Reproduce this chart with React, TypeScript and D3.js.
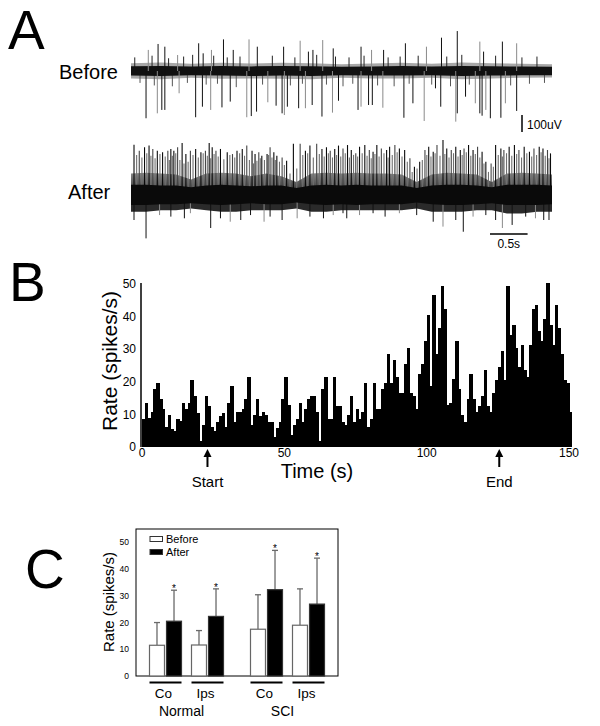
import React from "react";
import * as d3 from "d3";

const FONT = "Arial, 'Liberation Sans', Helvetica, sans-serif";

// ---------- Panel A : traces (time in s, amplitude in µV) ----------
const noiseT = [0, 0.4, 0.8, 1.2, 1.6, 2.0, 2.4, 2.8, 3.2, 3.6, 4.0, 4.4, 4.8, 5.2, 5.6];
const befBandHi = [28, 30, 26, 29, 27, 30, 28, 25, 27, 29, 26, 30, 28, 26, 25];
const befBandLo = [-27, -29, -25, -27, -29, -27, -29, -25, -27, -27, -25, -29, -27, -25, -25];
const befFuzzHi = [46, 50, 42, 48, 44, 48, 46, 40, 44, 48, 42, 50, 46, 42, 40];
const befFuzzLo = [-44, -48, -40, -46, -44, -46, -48, -40, -44, -44, -40, -48, -44, -40, -38];

const beforeDown: [number, number][] = [
  [0.2, -278], [0.35, -249], [0.41, -229], [0.45, -229], [0.64, -131], [0.86, -272], [0.95, -210],
  [1.06, -229], [1.21, -214], [1.32, -180], [1.54, -272], [1.6, -265], [1.67, -239], [1.82, -184],
  [1.93, -204], [2.01, -249], [2.04, -259], [2.08, -210], [2.23, -219], [2.32, -219], [2.41, -200],
  [2.54, -268], [2.68, -245], [2.76, -175], [3.02, -229], [3.06, -210], [3.16, -200], [3.21, -200],
  [3.35, -216], [3.63, -275], [3.75, -190], [3.9, -294], [4.05, -102], [4.12, -210], [4.32, -298],
  [4.34, -249], [4.45, -151], [4.58, -190], [4.64, -249], [4.67, -263], [4.72, -229], [4.78, -278],
  [4.92, -275], [4.98, -190], [5.13, -235],
];
const beforeUp: [number, number][] = [
  [0.23, 124], [0.36, 159], [0.45, 143], [0.62, 94], [0.9, 163], [0.96, 104], [1.07, 124],
  [1.23, 186], [1.36, 124], [1.57, 186], [1.68, 143], [2.03, 143], [2.25, 178], [2.36, 114],
  [2.42, 124], [2.55, 182], [2.69, 133], [3.06, 143], [3.2, 124], [3.36, 124], [3.65, 163],
  [3.93, 143], [4.13, 196], [4.34, 235], [4.64, 173], [4.69, 114], [4.94, 173], [5.13, 163],
];
const beforeSmall: [number, number][] = [
  [0.05, 80], [0.12, -70], [0.28, 90], [0.31, -85], [0.5, 75], [0.55, -90], [0.7, 85], [0.75, -70],
  [0.82, 95], [1.0, -80], [1.1, 90], [1.15, -75], [1.28, 80], [1.4, -95], [1.45, 85], [1.75, -80],
  [1.88, 90], [2.12, -85], [2.18, 80], [2.28, -75], [2.47, 95], [2.6, -80], [2.72, 85], [2.82, -90],
  [2.9, 80], [2.95, -75], [3.1, 90], [3.28, -85], [3.42, 80], [3.5, -90], [3.58, 85], [3.7, -75],
  [3.82, 90], [4.0, -80], [4.2, 85], [4.25, -90], [4.4, 95], [4.5, -80], [4.85, 90], [5.05, -85],
  [5.2, 80], [5.3, -75], [5.4, 85], [5.5, -70],
];

const hazeT = [0, 0.2, 0.4, 0.6, 0.8, 1.0, 1.2, 1.4, 1.6, 1.8, 2.0, 2.2, 2.4, 2.6, 2.8, 3.0, 3.2, 3.4, 3.6, 3.8, 4.0, 4.2, 4.4, 4.6, 4.8, 5.0, 5.2, 5.4, 5.6];
const aftHazeHi = [120, 125, 120, 115, 85, 120, 125, 120, 105, 120, 105, 70, 120, 125, 120, 125, 120, 120, 115, 70, 115, 125, 120, 115, 70, 120, 125, 120, 115];
const aftHazeLo = [-105, -105, -95, -95, -85, -95, -105, -105, -95, -95, -95, -85, -105, -105, -95, -95, -95, -95, -95, -85, -105, -105, -105, -95, -95, -115, -115, -105, -105];
const aftBandHi = [55, 55, 50, 50, 40, 50, 55, 50, 45, 50, 50, 35, 50, 55, 50, 55, 50, 50, 50, 35, 50, 55, 55, 50, 40, 55, 55, 55, 50];
const aftBandLo = [-65, -65, -60, -60, -55, -60, -65, -60, -55, -60, -60, -50, -60, -65, -60, -65, -60, -60, -60, -50, -60, -65, -65, -60, -55, -65, -65, -65, -60];

const afterUp: [number, number][] = [
  [0.04, 290], [0.11, 255], [0.18, 275], [0.24, 285], [0.29, 265], [0.35, 255], [0.42, 245], [0.49, 255],
  [0.53, 265], [0.57, 255], [0.62, 275], [0.68, 300], [0.73, 235], [0.79, 255], [0.86, 265], [0.93, 245],
  [0.99, 255], [1.04, 300], [1.08, 275], [1.13, 255], [1.19, 265], [1.28, 245], [1.35, 235], [1.41, 255],
  [1.48, 265], [1.54, 285], [1.61, 255], [1.65, 235], [1.7, 245], [1.74, 225], [1.81, 235], [1.85, 275],
  [1.9, 245], [1.94, 225], [2.01, 215], [2.07, 195], [2.16, 295], [2.25, 295], [2.32, 255], [2.38, 285],
  [2.47, 295], [2.54, 265], [2.6, 275], [2.65, 255], [2.71, 265], [2.76, 285], [2.82, 268], [2.88, 288],
  [2.93, 259], [2.99, 239], [3.04, 278], [3.11, 288], [3.17, 259], [3.22, 249], [3.27, 288], [3.33, 268],
  [3.4, 259], [3.44, 278], [3.51, 288], [3.57, 268], [3.64, 259], [3.71, 210], [3.77, 161], [3.84, 190],
  [3.91, 259], [3.96, 278], [4.02, 249], [4.07, 288], [4.15, 318], [4.2, 268], [4.26, 259], [4.32, 278],
  [4.38, 259], [4.43, 268], [4.49, 288], [4.55, 259], [4.61, 278], [4.67, 249], [4.72, 190], [4.79, 180],
  [4.85, 288], [4.92, 268], [4.96, 259], [5.03, 278], [5.1, 288], [5.16, 259], [5.23, 278], [5.3, 249],
  [5.36, 268], [5.43, 278], [5.48, 268], [5.54, 259], [5.58, 239],
];
const afterUpGray: [number, number][] = [
  [0.075, 230], [0.145, 215], [0.21, 240], [0.265, 225], [0.32, 210], [0.385, 235], [0.455, 220], [0.51, 200],
  [0.55, 225], [0.595, 240], [0.65, 200], [0.705, 180], [0.76, 190], [0.825, 230], [0.895, 215], [0.96, 240],
  [1.015, 225], [1.06, 210], [1.105, 235], [1.16, 220], [1.235, 205], [1.315, 230], [1.38, 215], [1.445, 240],
  [1.51, 225], [1.575, 200], [1.63, 180], [1.675, 195], [1.72, 210], [1.775, 200], [1.83, 230], [1.875, 215],
  [1.92, 200], [1.975, 190], [2.04, 170], [2.115, 120], [2.205, 150], [2.285, 230], [2.35, 240], [2.425, 215],
  [2.505, 235], [2.57, 220], [2.625, 240], [2.68, 215], [2.735, 230], [2.79, 220], [2.85, 240], [2.905, 215],
  [2.96, 230], [3.015, 220], [3.075, 240], [3.14, 225], [3.195, 210], [3.245, 235], [3.3, 220], [3.365, 240],
  [3.42, 215], [3.475, 230], [3.54, 245], [3.605, 220], [3.675, 190], [3.74, 130], [3.805, 150], [3.875, 200],
  [3.935, 230], [3.99, 220], [4.045, 240], [4.11, 225], [4.175, 235], [4.23, 215], [4.29, 240], [4.35, 220],
  [4.405, 230], [4.46, 245], [4.52, 225], [4.58, 235], [4.64, 215], [4.695, 180], [4.755, 130], [4.82, 160],
  [4.885, 230], [4.94, 220], [4.995, 240], [5.065, 225], [5.13, 235], [5.195, 215], [5.265, 240], [5.33, 220],
  [5.395, 230], [5.455, 245], [5.51, 225], [5.56, 210],
];
const afterDown: [number, number][] = [
  [0.04, -153], [0.2, -261], [0.38, -124], [0.53, -133], [0.71, -143], [0.79, -113], [1.06, -200],
  [1.19, -143], [1.32, -163], [1.46, -153], [1.59, -124], [1.77, -163], [1.85, -133], [2.01, -153],
  [2.21, -143], [2.38, -133], [2.56, -143], [2.69, -124], [2.82, -113], [2.87, -143], [3.04, -124],
  [3.22, -113], [3.38, -133], [3.57, -113], [3.8, -124], [4.02, -163], [4.15, -192], [4.32, -153],
  [4.42, -222], [4.55, -133], [4.72, -124], [4.85, -153], [4.94, -200], [5.07, -182], [5.25, -133],
  [5.38, -143], [5.49, -153], [5.56, -153],
];

// ---------- Panel B : firing-rate histogram (1 s bins) ----------
const histRates = [
  8.7, 13.6, 8.9, 10.7, 17.7, 19.6, 14.6, 11.8, 6.1, 9.7, 5.6, 4.9, 8.7, 7.9, 13.6, 11.8, 13.6, 20.7, 15.6, 10.5,
  1.7, 6.6, 15.6, 12.6, 6.1, 4.8, 7.7, 9.5, 10.5, 6.1, 13.6, 18.6, 7.7, 10.7, 10.7, 11.8, 14.6, 21.5, 6.6, 9.7,
  14.6, 9.5, 10.7, 9.7, 7.7, 7.7, 3.1, 5.8, 7.7, 14.6, 21.5, 12.8,
  3.6, 6.6, 8.7, 13.6, 7.7, 11.8, 14.6, 15.6, 15.6, 10.7, 1.7, 17.7, 21.5, 8.7, 8.7, 21.5, 12.6, 12.6, 7.7, 6.9,
  9.7, 15.6, 7.7, 11.8, 8.7, 10.7, 19.6, 6.1, 8.7, 19.6, 11.6, 11.6, 17.7, 19.6, 28.6, 19.6, 26.6, 21.5, 16.7, 16.7,
  25.6, 30.4, 16.7, 15.6, 11.8, 22.5, 25.6, 32.4, 40.4, 18.6, 46.5,
  28.6, 36.4, 49.3, 42.4, 12.8, 13.6, 20.8, 32.4, 17.7, 9.7, 7.7, 14.8, 22.5, 14.6, 10.7, 12.6, 15.6, 23.7, 12.6, 10.7,
  16.6, 20.7, 24.5, 29.3, 20.7, 49.3, 34.3, 37.5, 30.4, 24.5, 31.4, 23.5, 21.5, 31.4, 42.4, 43.5, 35.5, 32.4, 39.4, 50.3,
  37.5, 31.4, 43.5, 36.5, 28.4, 20.7, 19.7, 10.7,
];
const histXTicks = [0, 50, 100, 150];
const histYTicks = [0, 10, 20, 30, 40, 50];
const markerLabels = ["Start", "End"];
const markerTimes = [23, 125.5];

// ---------- Panel C : mean rate bars ----------
const groups = ["Normal", "SCI"];
const sides = ["Co", "Ips"];
const conditions = ["Before", "After"];
const beforeMean = [11.5, 11.6, 17.5, 19.0];
const afterMean = [20.5, 22.3, 32.3, 26.9];
const beforeErrTop = [20.0, 17.0, 30.4, 32.6];
const afterErrTop = [32.1, 32.6, 47.0, 44.1];
const cYTicks = [0, 10, 20, 30, 40, 50];

export default function App() {
  // ----- Panel A scales -----
  const tScale = d3.scaleLinear().domain([0, 5.6]).range([131, 552]);
  const bef = d3.scaleLinear().domain([-100, 100]).range([71 + 17, 71 - 17]);
  const aft = d3.scaleLinear().domain([-100, 100]).range([194 + 17, 194 - 17]);

  const bandArea = (ts: number[], lo: number[], hi: number[], y: d3.ScaleLinear<number, number>) =>
    d3.area<number>()
      .x((_, i) => tScale(ts[i]))
      .y0((_, i) => y(lo[i]))
      .y1((_, i) => y(hi[i]))
      .curve(d3.curveLinear)(ts) as string;

  // ----- Panel B scales -----
  const xB = d3.scaleLinear().domain([0, 150]).range([142, 569]);
  const yB = d3.scaleLinear().domain([0, 50]).range([447, 284]);

  // ----- Panel C scales -----
  const gX = d3.scalePoint<string>().domain(groups).range([136, 338]).padding(0.5);
  const sX = d3.scalePoint<string>().domain(sides).range([-21, 21]);
  const cX = d3.scaleBand<string>().domain(conditions).range([-16, 16]).paddingInner(0.12);
  const yC = d3.scaleLinear().domain([0, 55]).range([676, 529]);

  const cBars: { g: string; s: string; c: string; v: number; e: number; idx: number }[] = [];
  groups.forEach((g, gi) =>
    sides.forEach((s, si) => {
      const idx = gi * 2 + si;
      cBars.push({ g, s, c: "Before", v: beforeMean[idx], e: beforeErrTop[idx], idx });
      cBars.push({ g, s, c: "After", v: afterMean[idx], e: afterErrTop[idx], idx });
    })
  );

  const spikeColor = (i: number) => (i % 3 === 1 ? "#8a8a8a" : "#111");

  return (
    <svg
      width={600}
      height={726}
      viewBox="0 0 600 726"
      style={{ position: "absolute", left: 0, top: 0, background: "#fff", fontFamily: FONT }}
    >
      <defs>
        <linearGradient id="hazeGrad" gradientUnits="userSpaceOnUse" x1={0} y1={172} x2={0} y2={194}>
          <stop offset="0%" stopColor="#8a8a8a" />
          <stop offset="100%" stopColor="#2a2a2a" />
        </linearGradient>
      </defs>
      <rect x={0} y={0} width={600} height={726} fill="#fff" />

      {/* Panel letters */}
      <text x={8} y={49} fontSize={55} fill="#000">A</text>
      <text x={9} y={301} fontSize={55} fill="#000">B</text>
      <text x={25} y={588} fontSize={55} fill="#000">C</text>

      {/* ---------- Panel A ---------- */}
      <text x={59} y={79} fontSize={20}>Before</text>
      <text x={68} y={199} fontSize={20}>After</text>

      {/* Before trace */}
      <path d={bandArea(noiseT, befFuzzLo, befFuzzHi, bef)} fill="#a8a8a8" />
      {beforeSmall.map(([t, a], i) => (
        <line key={"bs" + i} x1={tScale(t)} x2={tScale(t)} y1={bef(0)} y2={bef(a)} stroke={i % 2 ? "#555" : "#222"} strokeWidth={1} />
      ))}
      <path d={bandArea(noiseT, befBandLo, befBandHi, bef)} fill="#111" />
      {beforeDown.map(([t, a], i) => (
        <line key={"bd" + i} x1={tScale(t)} x2={tScale(t)} y1={bef(0)} y2={bef(a)} stroke={spikeColor(i)} strokeWidth={1} />
      ))}
      {beforeUp.map(([t, a], i) => (
        <line key={"bu" + i} x1={tScale(t)} x2={tScale(t)} y1={bef(0)} y2={bef(a)} stroke={spikeColor(i + 1)} strokeWidth={1} />
      ))}

      {/* 100 uV scale bar */}
      <line x1={522} x2={522} y1={132} y2={132 - (bef(0) - bef(100))} stroke="#000" strokeWidth={1.5} />
      <text x={527} y={129} fontSize={12}>100uV</text>

      {/* After trace */}
      <path d={bandArea(hazeT, aftHazeLo, aftHazeHi, aft)} fill="url(#hazeGrad)" />
      {afterUpGray.map(([t, a], i) => (
        <line key={"ag" + i} x1={tScale(t)} x2={tScale(t)} y1={aft(0)} y2={aft(a)} stroke="#707070" strokeWidth={1.1} />
      ))}
      {afterUp.map(([t, a], i) => (
        <line key={"au" + i} x1={tScale(t)} x2={tScale(t)} y1={aft(0)} y2={aft(a)} stroke={i % 3 === 1 ? "#444" : "#0a0a0a"} strokeWidth={1.1} />
      ))}
      {afterDown.map(([t, a], i) => (
        <line key={"ad" + i} x1={tScale(t)} x2={tScale(t)} y1={aft(0)} y2={aft(a)} stroke={spikeColor(i + 2)} strokeWidth={1} />
      ))}
      <path d={bandArea(hazeT, aftBandLo, aftBandHi, aft)} fill="#0a0a0a" />

      {/* 0.5 s scale bar */}
      <line x1={490} x2={490 + (tScale(0.5) - tScale(0))} y1={234} y2={234} stroke="#000" strokeWidth={1.5} />
      <text x={490 + (tScale(0.5) - tScale(0)) / 2} y={248} fontSize={12} textAnchor="middle">0.5s</text>

      {/* ---------- Panel B ---------- */}
      <g shapeRendering="crispEdges">
        {histRates.map((v, i) => (
          <rect key={"h" + i} x={xB(i)} y={yB(v)} width={xB(i + 1) - xB(i) + 0.6} height={yB(0) - yB(v)} fill="#000" />
        ))}
      </g>
      <line x1={141} x2={141} y1={283} y2={447} stroke="#000" strokeWidth={1.5} />
      {histYTicks.map((t) => (
        <text key={"by" + t} x={136} y={yB(t)} dy="0.35em" fontSize={12} textAnchor="end">{t}</text>
      ))}
      {histXTicks.map((t) => (
        <text key={"bx" + t} x={xB(t)} y={457} fontSize={12} textAnchor="middle">{t}</text>
      ))}
      <text x={317} y={478} fontSize={20} textAnchor="middle">Time (s)</text>
      <text transform="translate(117,361) rotate(-90)" fontSize={21} textAnchor="middle">Rate (spikes/s)</text>
      {markerTimes.map((t, i) => {
        const x = xB(t);
        return (
          <g key={"m" + i}>
            <line x1={x} x2={x} y1={455} y2={467} stroke="#000" strokeWidth={2} />
            <path d={`M${x},449 L${x - 4},457 L${x + 4},457 Z`} fill="#000" />
            <text x={x} y={487} fontSize={15} textAnchor="middle">{markerLabels[i]}</text>
          </g>
        );
      })}

      {/* ---------- Panel C ---------- */}
      <rect x={136} y={529} width={202} height={147} fill="none" stroke="#000" strokeWidth={1} />
      {cYTicks.map((t) => (
        <text key={"cy" + t} x={129} y={yC(t)} dy="0.35em" fontSize={8.5} textAnchor="end">{t}</text>
      ))}
      <text transform="translate(114,602) rotate(-90)" fontSize={15} textAnchor="middle">Rate (spikes/s)</text>

      {cBars.map((b, i) => {
        const cx = (gX(b.g) as number) + (sX(b.s) as number);
        const x = cx + (cX(b.c) as number);
        const w = cX.bandwidth();
        const isAfter = b.c === "After";
        const mid = x + w / 2;
        return (
          <g key={"cb" + i}>
            <line x1={mid} x2={mid} y1={yC(b.v)} y2={yC(b.e)} stroke="#6a6a6a" strokeWidth={1.3} />
            <line x1={mid - 3} x2={mid + 3} y1={yC(b.e)} y2={yC(b.e)} stroke="#6a6a6a" strokeWidth={1.3} />
            <rect x={x} y={yC(b.v)} width={w} height={yC(0) - yC(b.v)} fill={isAfter ? "#000" : "#fff"} stroke={isAfter ? "#333" : "#666"} strokeWidth={1.2} />
            {isAfter && (
              <text x={mid} y={yC(b.e) + 2} fontSize={10} textAnchor="middle" fill="#000">*</text>
            )}
          </g>
        );
      })}

      {/* legend */}
      {conditions.map((c, i) => (
        <g key={"lg" + c}>
          <rect x={150} y={536.5 + i * 13} width={12.5} height={5} fill={c === "After" ? "#000" : "#fff"} stroke="#333" strokeWidth={1} />
          <text x={166} y={542.5 + i * 13} fontSize={11}>{c}</text>
        </g>
      ))}

      {/* group labels */}
      {groups.map((g) => (
        <g key={"gl" + g}>
          {sides.map((s) => {
            const cx = (gX(g) as number) + (sX(s) as number);
            return (
              <g key={g + s}>
                <line x1={cx - 16} x2={cx + 16} y1={682.5} y2={682.5} stroke="#000" strokeWidth={2} />
                <text x={cx - 2} y={698} fontSize={13.5} textAnchor="middle">{s}</text>
              </g>
            );
          })}
          <text x={(gX(g) as number) - 5} y={716} fontSize={14} textAnchor="middle">{g}</text>
        </g>
      ))}
    </svg>
  );
}
